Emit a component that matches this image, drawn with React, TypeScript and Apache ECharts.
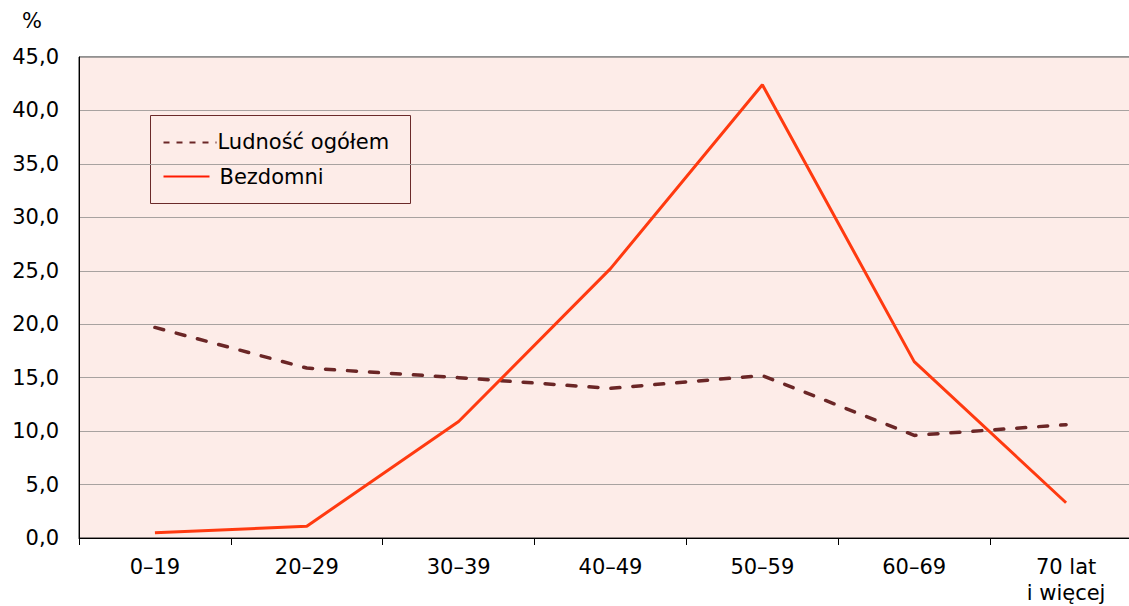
import React, { useEffect, useRef } from "react";
import * as echarts from "echarts";

const categories = ["0–19", "20–29", "30–39", "40–49", "50–59", "60–69", "70 lat\ni więcej"];
const ludnosc = [19.7, 15.9, 15.0, 14.0, 15.2, 9.6, 10.6];
const bezdomni = [0.5, 1.1, 10.9, 25.2, 42.4, 16.5, 3.3];
const seriesNames = ["Ludność ogółem", "Bezdomni"];
const FONT = "'DejaVu Sans', sans-serif";
const FS = 21;

export default function App() {
  const ref = useRef<HTMLDivElement>(null);
  useEffect(() => {
    if (!ref.current) return;
    const chart = echarts.init(ref.current, null, { renderer: "svg" });
    chart.setOption({
      animation: false,
      textStyle: { fontFamily: FONT },
      grid: {
        left: 79,
        top: 57,
        width: 1063,
        height: 481,
        show: true,
        backgroundColor: "#FDECE8",
        borderColor: "#222",
        borderWidth: 1,
      },
      graphic: [
        { type: "text", left: 22, top: 10, style: { text: "%", font: `${FS}px ${FONT}`, fill: "#000" } },
        {
          type: "group",
          left: 150,
          top: 115,
          children: [
            { type: "rect", shape: { x: 0, y: 0, width: 260, height: 88 }, style: { fill: "#FDECE8", stroke: "#6B2A2A", lineWidth: 1 } },
            { type: "line", shape: { x1: 13, y1: 27, x2: 66, y2: 27 }, style: { stroke: "#6B2626", lineWidth: 2, lineDash: [6, 7] } },
            { type: "text", x: 67, y: 26, style: { text: seriesNames[0], font: `${FS}px ${FONT}`, fill: "#000", textVerticalAlign: "middle" } },
            { type: "line", shape: { x1: 13, y1: 61, x2: 59, y2: 61 }, style: { stroke: "#FF1A00", lineWidth: 2 } },
            { type: "text", x: 69, y: 61, style: { text: seriesNames[1], font: `${FS}px ${FONT}`, fill: "#000", textVerticalAlign: "middle" } },
          ],
        },
      ],
      xAxis: {
        type: "category",
        data: categories,
        boundaryGap: true,
        axisLine: { lineStyle: { color: "#000", width: 1 } },
        axisTick: { show: true, length: 7, lineStyle: { color: "#000" } },
        axisLabel: { fontSize: FS, color: "#000", margin: 16, lineHeight: 26, fontFamily: FONT },
      },
      yAxis: {
        type: "value",
        min: 0,
        max: 45,
        interval: 5,
        axisLine: { show: true, lineStyle: { color: "#000" } },
        axisTick: { show: false },
        splitLine: { lineStyle: { color: "#A8A2A0", width: 1 } },
        axisLabel: {
          fontSize: FS,
          color: "#000",
          margin: 20,
          fontFamily: FONT,
          formatter: (v: number) => v.toFixed(1).replace(".", ","),
        },
      },
      series: [
        {
          name: seriesNames[0],
          type: "line",
          data: ludnosc,
          symbol: "none",
          lineStyle: { color: "#6B2626", width: 3.5, type: [9, 13], cap: "round" },
          itemStyle: { color: "#6B2626" },
        },
        {
          name: seriesNames[1],
          type: "line",
          data: bezdomni,
          symbol: "none",
          lineStyle: { color: "#FF3A10", width: 3 },
          itemStyle: { color: "#FF3A10" },
        },
      ],
    });
    return () => chart.dispose();
  }, []);
  return (
    <div style={{ position: "fixed", left: 0, top: 0, width: 1129, height: 606, overflow: "hidden", background: "#fff" }}>
      <div ref={ref} style={{ width: 1150, height: 606 }} />
    </div>
  );
}
